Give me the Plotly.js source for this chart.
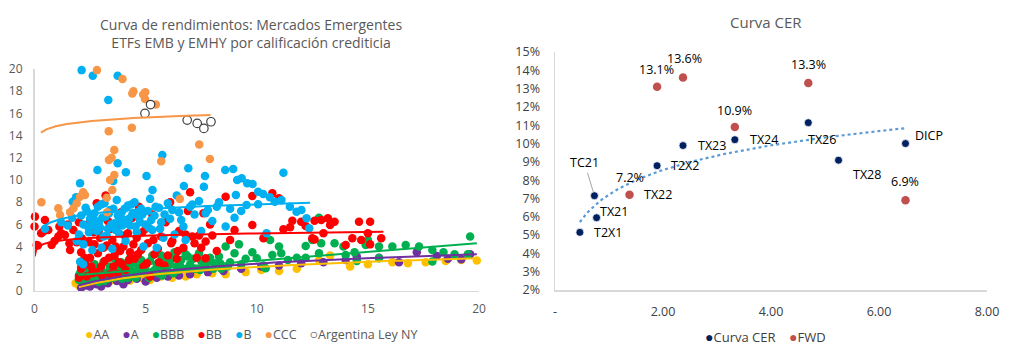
<!DOCTYPE html>
<html>
<head>
<meta charset="utf-8">
<script src="https://cdn.plot.ly/plotly-3.0.1.min.js"></script>
<style>html,body{margin:0;padding:0;background:#fff;}#chart{width:1024px;height:360px;}</style>
</head>
<body>
<div id="chart"></div>
<script>
// ---------- Left chart: yields by credit rating (x = duration, y = yield %) ----------
const aaX = [1.85,2.0,2.1,2.3,2.6,3.0,3.4,3.8,4.3,4.8,5.2,5.7,6.2,6.8,7.3,8.0,8.6,9.5,10.2,11.0,11.8,12.8,13.3,14.2,15.0,16.1,16.8,17.6,18.5,19.2,19.9];
const aaY = [0.7,0.5,0.35,0.6,0.7,0.8,0.9,1.0,0.95,1.2,1.0,1.3,1.2,1.3,1.5,1.6,1.5,1.7,1.9,1.8,2.0,2.8,3.2,2.2,2.4,2.6,2.5,2.6,2.7,2.8,2.75];

const aX = [2.0,2.1,2.3,2.5,2.8,3.0,3.3,3.7,4.0,4.2,4.6,5.0,5.5,6.0,6.5,7.0,7.8,8.5,9.3,10.2,11.0,12.0,13.0,14.0,14.5,15.5,16.4,17.2,18.1,18.6,19.2,19.6];
const aY = [1.4,0.3,0.5,0.4,0.6,0.4,0.7,0.9,0.6,1.0,1.1,0.85,1.2,1.3,1.4,1.5,1.7,1.8,2.0,2.2,2.3,2.5,2.6,2.8,3.1,3.0,2.6,3.5,3.15,2.9,2.85,3.3];

const bbbX = [2.0,2.05,2.1,2.2,2.3,2.4,2.5,2.6,2.7,2.8,2.9,3.0,3.1,3.2,3.3,3.4,3.5,3.6,3.7,3.8,3.9,4.0,4.1,4.2,4.3,4.4,4.5,4.6,4.7,4.8,4.9,5.0,5.1,5.2,5.3,5.4,5.5,5.6,5.7,5.8,5.9,6.0,6.1,6.2,6.3,6.4,6.5,6.6,6.8,6.9,7.0,7.2,7.4,7.5,7.7,7.9,8.1,8.3,8.4,8.6,8.8,9.0,9.2,9.3,9.5,9.8,10.0,10.3,10.4,10.6,10.7,11.0,11.1,11.4,11.8,12.2,12.5,12.8,12.9,12.8,12.2,13.5,13.9,14.0,14.4,14.5,14.9,15.0,15.5,15.5,16.1,16.7,17.3,17.9,17.9,18.4,18.9,19.5,19.6];
const bbbY = [1.0,1.6,2.2,0.9,1.4,2.0,1.1,1.7,2.4,1.3,0.8,1.9,2.6,1.5,1.1,2.2,1.7,2.9,1.3,2.0,2.6,1.6,2.3,1.2,3.0,1.8,2.5,1.4,2.1,2.8,1.7,2.3,1.5,2.7,3.2,1.9,2.4,1.6,3.2,2.1,2.8,1.8,2.5,3.0,3.5,2.2,1.9,2.8,3.3,3.1,2.4,2.0,3.4,2.7,2.2,3.0,2.5,3.1,2.0,4.0,2.6,3.4,4.2,2.4,2.9,3.5,2.95,2.3,2.05,4.6,3.25,4.0,3.4,2.8,3.0,4.05,4.6,6.6,4.3,3.4,3.0,4.3,4.0,3.25,3.5,2.7,4.15,4.6,4.0,2.95,4.0,4.15,4.0,3.7,2.65,3.5,3.3,3.3,4.9];
const bbbX2 = [2.15,2.35,2.55,2.75,2.95,3.15,3.35,3.55,3.75,3.95,4.15,4.35,4.55,4.75,4.95,5.15,5.35,5.55,5.75,5.95,6.25,6.55,6.85,7.15,7.45,7.75,8.05,8.35,8.7];
const bbbY2 = [1.3,0.8,1.9,1.0,1.5,0.9,1.8,1.2,2.3,1.1,1.7,2.4,1.2,1.6,2.0,1.2,1.7,2.1,1.4,2.6,1.6,2.3,2.0,2.9,1.9,2.6,2.0,2.5,2.2];

const bbX = [0.02,0.0,0.1,0.15,0.3,0.4,0.47,0.62,0.77,0.9,1.07,1.12,1.2,1.37,1.5,1.57,1.6,1.75,1.9,2.0,2.0,2.1,2.12,2.2,2.3,2.4,2.5,2.6,2.7,2.8,2.9,3.0,3.1,3.2,3.3,3.4,3.5,3.6,3.7,3.8,3.9,4.0,4.1,4.2,4.3,4.4,4.5,4.6,4.7,4.8,4.9,5.0,5.1,5.2,5.3,5.4,5.6,5.7,5.9,6.0,6.1,6.2,6.4,6.5,6.7,6.9,7.0,7.1,7.3,7.4,7.6,7.7,7.7,7.9,8.2,8.6,8.8,9.0,9.8,9.8,10.3,10.7,11.0,11.2,11.5,11.6,12.0,12.2,12.5,12.6,12.6,12.9,13.0,13.2,13.3,13.5,14.0,14.3,14.6,14.7,15.0,15.1,15.1,15.6];
const bbY = [6.7,5.8,4.15,4.1,5.2,5.35,6.4,5.5,4.15,4.5,4.9,5.8,5.2,5.05,6.0,4.3,3.7,5.5,4.4,6.2,1.2,3.5,4.75,2.6,2.4,6.0,3.0,1.6,4.2,7.9,5.5,2.2,3.9,8.6,6.3,1.5,4.6,3.2,5.8,2.6,7.1,4.0,1.9,5.2,3.5,6.6,2.9,4.8,7.6,3.7,2.2,5.6,4.3,1.3,6.9,3.3,2.6,4.9,6.2,3.2,8.0,4.5,2.9,5.4,3.9,7.2,8.9,4.9,3.0,5.0,7.0,4.45,2.95,6.0,3.6,8.5,4.6,5.5,8.56,5.95,4.75,8.8,8.35,5.56,5.74,6.33,6.24,5.86,4.75,6.33,4.65,6.4,5.2,6.55,5.95,6.24,4.15,4.75,6.24,4.6,5.2,6.24,4.2,4.75];
const bbX2 = [2.1,2.25,2.35,2.45,2.55,2.65,2.75,2.85,2.95,3.05,3.15,3.25,3.35,3.45,3.55,3.65,3.75,3.85,3.95,4.05,4.25,4.45,4.65,4.85,5.05,5.35,5.55,5.85,6.15,6.45,6.8,7.2,7.5,8.0];
const bbY2 = [2.0,3.0,1.3,4.4,2.2,5.3,1.7,3.4,4.8,1.4,2.7,4.1,3.0,5.6,2.2,4.0,1.5,3.6,2.4,5.0,2.8,4.2,3.3,5.3,2.5,4.6,3.8,2.3,4.3,3.6,5.1,4.3,3.9,5.0];

const bX = [0.47,1.2,1.5,1.7,1.72,1.87,1.9,2.0,2.05,2.05,2.12,2.1,2.19,2.2,2.3,2.4,2.5,2.6,2.62,2.7,2.8,2.83,2.9,3.0,3.02,3.1,3.2,3.3,3.32,3.4,3.5,3.54,3.6,3.7,3.74,3.74,3.8,3.9,4.0,4.1,4.11,4.2,4.3,4.4,4.5,4.6,4.7,4.8,4.9,5.0,5.04,5.1,5.2,5.3,5.31,5.4,5.5,5.6,5.7,5.75,5.8,6.0,6.1,6.3,6.4,6.5,6.7,6.72,6.8,6.92,7.0,7.2,7.4,7.5,7.62,7.67,7.8,8.0,8.3,8.58,8.6,8.8,8.94,9.0,9.06,9.12,9.3,9.32,9.54,9.57,9.81,10.06,10.06,10.29,10.44,10.59,10.81,11.11,11.2,11.49,11.79,12.01,12.24,12.36];
const bY = [5.6,6.2,5.9,6.6,8.05,8.45,4.5,5.1,2.64,9.7,19.9,6.8,2.4,4.2,7.5,5.8,6.5,3.7,19.4,7.0,5.4,10.9,6.2,7.8,3.9,4.9,6.7,5.6,17.2,7.3,3.8,9.9,6.1,8.2,19.4,11.5,5.2,7.0,6.4,4.5,10.7,7.7,5.9,6.9,8.0,5.3,6.6,7.4,4.0,6.0,10.36,7.2,8.3,5.5,9.1,6.8,3.9,7.5,6.2,12.25,4.8,7.9,6.5,5.1,8.6,7.1,5.8,9.46,4.6,11.05,7.6,6.9,8.1,5.4,9.4,10.36,7.3,6.3,8.0,10.9,5.8,7.4,11.0,6.6,8.65,10.0,7.2,10.15,7.75,9.7,9.64,8.95,7.81,8.74,5.2,8.44,8.05,8.2,10.66,7.6,7.15,7.3,6.55,5.65];
const bX2 = [2.2,2.35,2.45,2.55,2.65,2.75,2.85,2.95,3.05,3.15,3.25,3.35,3.45,3.55,3.65,3.75,3.85,3.95,4.05,4.15,4.25,4.35,4.55,4.65,4.75,4.85,5.15,5.25,5.45,5.65,5.85,6.2,6.6,7.1,7.7,8.2];
const bY2 = [6.0,7.2,5.3,6.9,5.9,6.3,7.6,5.7,6.6,7.9,5.0,7.0,6.0,7.4,5.5,6.8,6.3,5.9,7.4,6.1,6.5,7.8,5.8,7.1,6.2,6.9,5.7,6.4,7.6,5.6,6.9,7.3,6.4,7.8,7.0,7.6];

const cccX = [0.31,1.07,1.15,1.6,1.75,1.9,2.05,2.19,2.27,2.81,3.27,3.25,3.34,3.35,3.47,3.5,3.59,3.59,3.4,3.96,4.38,4.4,4.45,4.89,4.98,4.97,5.46,5.7,6.54,7.41,7.89];
const cccY = [8.0,7.45,6.85,7.1,7.45,7.9,8.5,8.9,8.65,19.9,7.1,8.4,14.4,11.8,12.0,9.1,12.7,10.45,10.0,19.1,14.7,17.8,18.0,17.7,17.9,17.3,16.8,11.7,8.3,13.2,11.9];

const argX = [4.97,5.22,6.87,7.32,7.62,7.94];
const argY = [16.0,16.8,15.4,15.1,14.65,15.25];

const ratingNames  = ['AA','A','BBB','BB','B','CCC'];
const ratingColors = ['#FFC000','#7030A0','#00B050','#FF0000','#00B0F0','#F79646'];
const argName = 'Argentina Ley NY';
// Excel trendlines: kind, intercept, slope (vs ln(x) or x), x start, x end
const trendKind = ['log','log','lin','log','log','log'];
const trendA    = [-0.42,-0.33,1.125,4.5,6.38,14.86];
const trendB    = [1.127,1.215,0.16,0.3,0.62,0.48];
const trendX0   = [2.0,2.0,1.97,0.01,0.45,0.29];
const trendX1   = [19.9,19.9,19.9,15.7,12.4,7.92];

// ---------- Right chart: Curva CER ----------
const cerNames = ['T2X1','TC21','TX21','T2X2','TX23','TX24','TX26','TX28','DICP'];
const cerDur   = [0.46,0.73,0.77,1.89,2.37,3.33,4.69,5.25,6.49];
const cerYield = [5.15,7.15,5.95,8.79,9.89,10.21,11.14,9.09,10.0];
const fwdDur   = [1.38,1.89,2.37,3.33,4.69,6.49];
const fwdYield = [7.2,13.1,13.6,10.9,13.3,6.9];
const extraLabel = {name:'TX22', x:1.38, y:7.2};

const seriesX = [aaX, aX, bbbX.concat(bbbX2), bbX.concat(bbX2), bX.concat(bX2), cccX];
const seriesY = [aaY, aY, bbbY.concat(bbbY2), bbY.concat(bbY2), bY.concat(bY2), cccY];

const FONT = 'Open Sans, sans-serif';
const traces = [];
for (let i = 0; i < ratingNames.length; i++) {
  traces.push({
    type:'scatter', mode:'markers', x:seriesX[i], y:seriesY[i], name:ratingNames[i],
    xaxis:'x', yaxis:'y', showlegend:false, cliponaxis:false,
    marker:{color:ratingColors[i], size:8.5}, hoverinfo:'skip'
  });
}
traces.push({
  type:'scatter', mode:'markers', x:argX, y:argY, name:argName,
  xaxis:'x', yaxis:'y', showlegend:false, cliponaxis:false,
  marker:{color:'#ffffff', size:8.5, line:{color:'#404040', width:1.2}}
});
// trendlines
for (let i = 0; i < ratingNames.length; i++) {
  const xs = [], ys = [];
  const n = 120;
  for (let k = 0; k <= n; k++) {
    const t = k / n;
    const x = trendKind[i] === 'log'
      ? Math.exp(Math.log(trendX0[i]) + t * (Math.log(trendX1[i]) - Math.log(trendX0[i])))
      : trendX0[i] + t * (trendX1[i] - trendX0[i]);
    xs.push(x);
    ys.push(trendKind[i] === 'log' ? trendA[i] + trendB[i] * Math.log(x) : trendA[i] + trendB[i] * x);
  }
  traces.push({type:'scatter', mode:'lines', x:xs, y:ys, xaxis:'x', yaxis:'y',
    line:{color:ratingColors[i], width:2}, showlegend:false, hoverinfo:'skip'});
}

// CER log regression (Excel style)
(function(){
  const lx = cerDur.map(Math.log);
  const mx = lx.reduce((a,b)=>a+b,0)/lx.length;
  const my = cerYield.reduce((a,b)=>a+b,0)/cerYield.length;
  let sxy=0, sxx=0;
  for (let i=0;i<lx.length;i++){ sxy += (lx[i]-mx)*(cerYield[i]-my); sxx += (lx[i]-mx)**2; }
  const b = sxy/sxx, a = my - b*mx;
  const x0 = Math.min(...cerDur), x1 = Math.max(...cerDur);
  const xs=[], ys=[];
  for (let k=0;k<=100;k++){ const x = x0 + (x1-x0)*k/100; xs.push(x); ys.push(a + b*Math.log(x)); }
  traces.push({type:'scatter', mode:'lines', x:xs, y:ys, xaxis:'x2', yaxis:'y2',
    line:{color:'#5B9BD5', width:2.2, dash:'dot'}, showlegend:false, hoverinfo:'skip'});
})();

traces.push({
  type:'scatter', mode:'markers', x:cerDur, y:cerYield, name:'Curva CER',
  xaxis:'x2', yaxis:'y2', showlegend:false,
  marker:{color:'#002060', size:8, line:{color:'#ffffff', width:0.8}}
});
traces.push({
  type:'scatter', mode:'markers', x:fwdDur, y:fwdYield, name:'FWD',
  xaxis:'x2', yaxis:'y2', showlegend:false,
  marker:{color:'#C0504D', size:8.5}
});

const annotations = [];
const lblFont = {family:FONT, size:12.5, color:'#000000'};
// FWD value labels
const fwdShift = [[0,17],[-1,17],[2,19],[0,17],[0,19],[0,19]];
fwdDur.forEach((x,i)=>{
  annotations.push({xref:'x2', yref:'y2', x:x, y:fwdYield[i], text:fwdYield[i].toFixed(1)+'%', showarrow:false,
    xanchor:'center', yanchor:'middle', xshift:fwdShift[i][0], yshift:fwdShift[i][1], font:lblFont});
});
// CER ticker labels
const labelShift = {
  'T2X1':[12,0], 'T2X2':[12,0], 'TX23':[13,0], 'TX24':[13,0], 'TX26':[-2,-17], 'TX28':[12,-14], 'DICP':[8,8]
};
cerNames.forEach((nm,i)=>{
  if (nm === 'TC21') {
    annotations.push({xref:'x2', yref:'y2', x:cerDur[i], y:cerYield[i], text:nm, showarrow:true,
      arrowhead:0, arrowwidth:1, arrowcolor:'#a6a6a6', ax:-10, ay:-33, standoff:4, font:lblFont});
  } else if (nm === 'TX21') {
    annotations.push({xref:'x2', yref:'y2', x:cerDur[i], y:cerYield[i], text:nm, showarrow:true,
      arrowhead:0, arrowwidth:1, arrowcolor:'#a6a6a6', ax:17, ay:-6, standoff:4, font:lblFont});
  } else {
    const s = labelShift[nm];
    annotations.push({xref:'x2', yref:'y2', x:cerDur[i], y:cerYield[i], text:nm, showarrow:false,
      xanchor:'left', yanchor:'middle', xshift:s[0], yshift:s[1], font:lblFont});
  }
});
annotations.push({xref:'x2', yref:'y2', x:extraLabel.x, y:extraLabel.y, text:extraLabel.name, showarrow:false,
  xanchor:'left', yanchor:'middle', xshift:12, yshift:0, font:lblFont});
// titles
annotations.push({xref:'paper', yref:'paper', x:0.245, y:0.907, xanchor:'center', yanchor:'middle', showarrow:false,
  text:'Curva de rendimientos: Mercados Emergentes<br>ETFs EMB y EMHY por calificación crediticia',
  font:{family:FONT, size:14, color:'#595959'}});
annotations.push({xref:'paper', yref:'paper', x:0.748, y:0.938, xanchor:'center', yanchor:'middle', showarrow:false,
  text:'Curva CER', font:{family:FONT, size:15, color:'#595959'}});
// legends (drawn as text so that spacing matches)
const dot = (c) => '<span style="color:' + c + ';font-size:14px">●</span>';
const gap = '&nbsp;&nbsp;&nbsp;&nbsp;';
const leftLegend = ratingNames.map((n,i)=> dot(ratingColors[i]) + n).join(gap)
  + gap + '<span style="color:#404040;font-size:14px">○</span>' + argName;
annotations.push({xref:'paper', yref:'paper', x:0.245, y:0.075, xanchor:'center', yanchor:'middle', showarrow:false,
  text:leftLegend, font:{family:FONT, size:12.5, color:'#595959'}});
const rightLegend = dot('#002060') + 'Curva CER' + gap + dot('#C0504D') + 'FWD';
annotations.push({xref:'paper', yref:'paper', x:0.748, y:0.064, xanchor:'center', yanchor:'middle', showarrow:false,
  text:rightLegend, font:{family:FONT, size:13, color:'#404040'}});

const axBase = {showgrid:false, zeroline:false, showline:true, linecolor:'#d9d9d9', linewidth:1.5,
  ticks:'outside', tickcolor:'rgba(0,0,0,0)', fixedrange:true};

const layout = {
  width:1024, height:360, margin:{l:0,r:0,t:0,b:0},
  paper_bgcolor:'#ffffff', plot_bgcolor:'#ffffff',
  font:{family:FONT, color:'#595959'},
  showlegend:false,
  xaxis:Object.assign({}, axBase, {domain:[0.0337,0.4678], range:[0,20], tickvals:[0,5,10,15,20], ticklen:6,
    anchor:'y', tickfont:{size:12, color:'#595959'}}),
  yaxis:Object.assign({}, axBase, {domain:[0.1917,0.8083], range:[0,20], dtick:2, ticklen:8,
    anchor:'x', tickfont:{size:12, color:'#595959'}}),
  xaxis2:Object.assign({}, axBase, {domain:[0.542,0.9639], range:[0,8], tickvals:[0,2,4,6,8],
    ticktext:['-','2.00','4.00','6.00','8.00'], ticklen:9, anchor:'y2', tickfont:{size:12.5, color:'#404040'}}),
  yaxis2:Object.assign({}, axBase, {domain:[0.1944,0.8556], range:[2,15], dtick:1, ticksuffix:'%', ticklen:11,
    anchor:'x2', tickfont:{size:12.5, color:'#404040'}}),
  annotations:annotations
};

Plotly.newPlot('chart', traces, layout, {displayModeBar:false, staticPlot:true});
</script>
</body>
</html>
